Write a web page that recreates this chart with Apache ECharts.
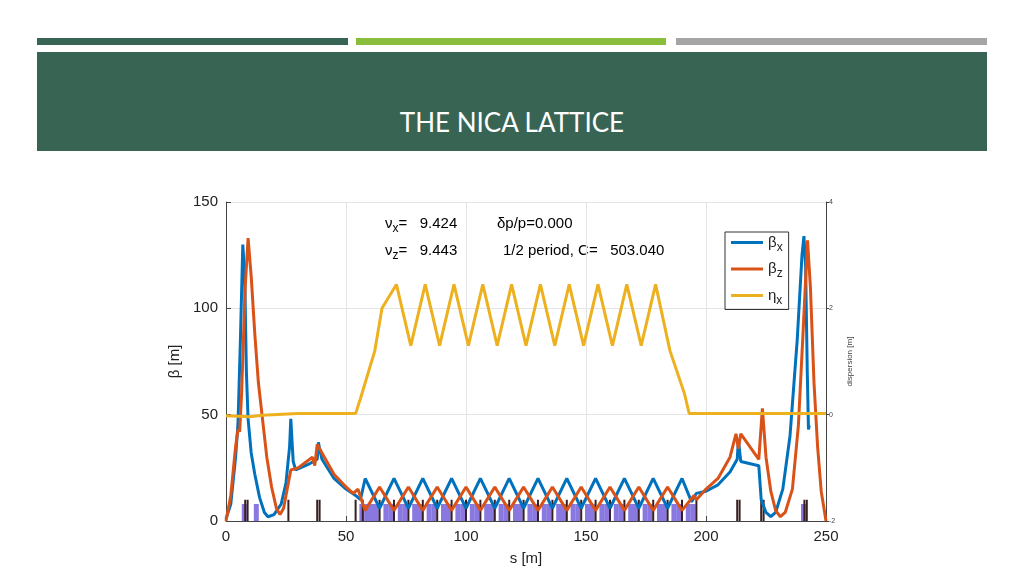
<!DOCTYPE html>
<html>
<head>
<meta charset="utf-8">
<script src="https://cdn.jsdelivr.net/npm/echarts@6/dist/echarts.min.js"></script>
<style>
body{margin:0;background:#fff;}
#bar1,#bar2,#bar3{position:absolute;top:38px;height:7px;}
#head{position:absolute;left:37px;top:52px;width:950px;height:99px;background:#386454;color:#fff;font-family:Lato,sans-serif;font-size:26px;text-align:center;line-height:140px;}
#main{position:absolute;left:0;top:0;width:1024px;height:576px;}
</style>
</head>
<body>
<div id="bar1" style="left:37px;width:311px;background:#386454"></div>
<div id="bar2" style="left:356px;width:310px;background:#8bbd3c"></div>
<div id="bar3" style="left:676px;width:311px;background:#a5a5a5"></div>
<div id="head">THE NICA LATTICE</div>
<div id="main"></div>
<script>
// s [m], beta [m]
var betaX = [[0,1],[2,8],[4,30],[5,46],[6,85],[7,130],[7.8,115],[8.5,70],[9.2,48],[10.5,32],[12,22],[14,11],[16,4],[17.5,2],[20,3],[23,8],[25,18],[26.5,35],[27,48],[28,28],[29,24],[35,27],[38,29],[38.5,37],[39,34],[40,29],[45,20],[50,15],[54,12],[56,10],
  [58,20],[64,6],[70,20],[76,6],[82,20],[88,6],[94,20],[100,6],[106,20],[112,6],[118,20],[124,6],[130,20],[136,6],[142,20],[148,6],[154,20],[160,6],[166,20],[172,6],[178,20],[184,6],[190,20],[194,9],
  [196,13],[200,14],[205,17],[210,23],[213,29],[213.5,38],[214.5,28],[222,26],[223,10],[225,4],[227,2],[229,4],[232,15],[235,40],[238,85],[240,125],[240.8,134],[241.5,120],[242.2,70],[242.7,43],[243,45]];
var betaZ = [[0,0],[2,12],[4,35],[5,43],[5.7,42],[6.5,60],[8,110],[9.2,133],[10.5,115],[12,88],[13.5,65],[15,50],[17,30],[19,16],[21,6],[22.5,3],[24,6],[26,18],[27,24],[30,25],[36,30],[37,26],[38,36],[40,32],[45,22],[50,16],[53,13],[55,15],[57,8],
  [58,5],[64,16],[70,5],[76,16],[82,5],[88,16],[94,5],[100,16],[106,5],[112,16],[118,5],[124,16],[130,5],[136,16],[142,5],[148,16],[154,5],[160,16],[166,5],[172,16],[178,5],[184,16],[190,5],[195,12],
  [196,10],[200,15],[205,20],[210,30],[212.5,41],[213.5,34],[214.5,41],[222,29],[223.5,53],[225,30],[227,14],[229,5],[231,2],[233,4],[236,15],[238.5,45],[240.5,90],[242.3,132],[243.5,110],[245,65],[246.5,35],[248,14],[250,0]];
// dispersion [m]
var etaX = [[0,-0.02],[10,-0.04],[15,-0.01],[30,0.02],[54,0.02],[56,0.3],[58,0.6],[62,1.2],[65,2.0],[71,2.45],
  [77,1.3],[83,2.45],[89,1.3],[95,2.45],[101,1.3],[107,2.45],[113,1.3],[119,2.45],[125,1.3],[131,2.45],[137,1.3],[143,2.45],[149,1.3],[155,2.45],[161,1.3],[167,2.45],[173,1.3],[179,2.45],
  [185,1.2],[188,0.8],[191,0.4],[193,0.02],[250,0.02]];
var dipoleS = [7,12,56,58,60,62,66,68,72,74,78,80,84,86,90,92,96,98,102,104,108,110,114,116,120,122,126,128,132,134,138,140,144,146,150,152,156,158,162,164,168,170,174,176,180,182,186,188,192,194,240];
var quadS = [8,9,26,38,39,54,57,64,70,76,82,88,94,100,106,112,118,124,130,136,142,148,154,160,166,172,178,184,190,196,213,214,223,224,241,242];

var chart = echarts.init(document.getElementById('main'));
var rich = {s:{fontSize:12,fontFamily:'Liberation Sans',color:'#222',padding:[10,0,0,0]},n:{fontSize:15,fontFamily:'Liberation Sans',color:'#222'}};
function lab(sym, sub){ return '{n|' + sym + '}{s|' + sub + '}'; }
chart.setOption({
  animation:false,
  grid:{left:226,top:202,width:600,height:319},
  xAxis:{type:'value',min:0,max:250,interval:50,name:'s [m]',nameLocation:'middle',nameGap:30,
    nameTextStyle:{fontSize:15,color:'#222',fontFamily:'Liberation Sans'},
    axisLabel:{fontSize:15,color:'#222',fontFamily:'Liberation Sans'},
    axisLine:{lineStyle:{color:'#444'}},axisTick:{inside:true},splitLine:{lineStyle:{color:'#e4e4e4'}}},
  yAxis:[{type:'value',min:0,max:150,interval:50,name:'β [m]',nameLocation:'middle',nameGap:40,
    nameTextStyle:{fontSize:15,color:'#222',fontFamily:'Liberation Sans'},
    axisLabel:{fontSize:15,color:'#222',fontFamily:'Liberation Sans'},
    axisLine:{show:true,lineStyle:{color:'#444'}},axisTick:{inside:true},splitLine:{lineStyle:{color:'#e4e4e4'}}},
   {type:'value',min:-2,max:4,interval:2,position:'right',name:'dispersion [m]',nameLocation:'middle',nameGap:18,
    nameTextStyle:{fontSize:8,color:'#444'},axisLabel:{fontSize:7,color:'#444',margin:3},
    axisLine:{show:true,lineStyle:{color:'#444'}},axisTick:{inside:false,length:3},splitLine:{show:false}}],
  series:[
    {type:'bar',data:dipoleS.map(function(s){return [s,8];}),barWidth:5,barGap:'-100%',itemStyle:{color:'#8878e0'},silent:true},
    {type:'bar',data:quadS.map(function(s){return [s,10];}),barWidth:2,itemStyle:{color:'#3a2020'},silent:true},
    {name:'βx',type:'line',data:betaX,showSymbol:false,lineStyle:{width:3,color:'#0072bd'},itemStyle:{color:'#0072bd'}},
    {name:'βz',type:'line',data:betaZ,showSymbol:false,lineStyle:{width:3,color:'#d95319'},itemStyle:{color:'#d95319'}},
    {name:'ηx',type:'line',yAxisIndex:1,data:etaX,showSymbol:false,lineStyle:{width:3,color:'#edb120'},itemStyle:{color:'#edb120'}}
  ],
  legend:{orient:'vertical',left:725,top:232,itemWidth:32,itemHeight:3,itemGap:8,padding:[3,6],
    borderColor:'#333',borderWidth:1,borderRadius:0,icon:'rect',
    formatter:function(name){ return lab(name.charAt(0), name.charAt(1)); },
    textStyle:{rich:rich},
    data:['βx','βz','ηx']},
  graphic:[
    {type:'text',left:385,top:216,style:{text:lab('ν','x')+'{n|=   9.424}',rich:rich}},
    {type:'text',left:385,top:243,style:{text:lab('ν','z')+'{n|=   9.443}',rich:rich}},
    {type:'text',left:497,top:216,style:{text:'{n|δp/p=0.000}',rich:rich}},
    {type:'text',left:503,top:243,style:{text:'{n|1/2 period, C=   503.040}',rich:rich}}
  ]
});
</script>
</body>
</html>
